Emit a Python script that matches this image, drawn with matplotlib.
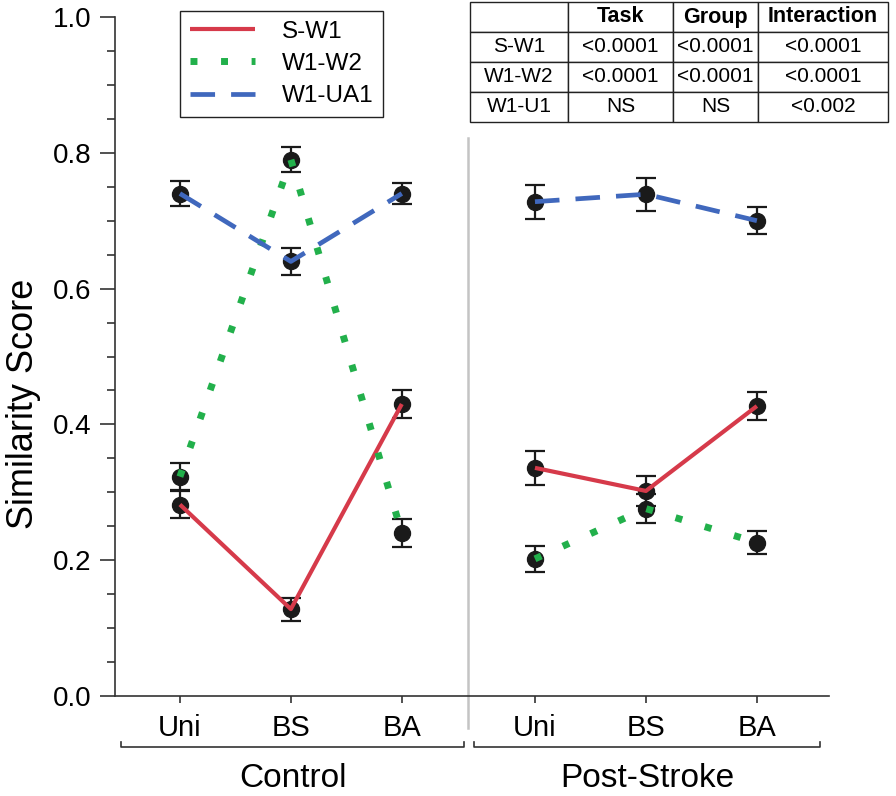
import numpy as np
import matplotlib
matplotlib.use('Agg')
import matplotlib.pyplot as plt
from matplotlib.lines import Line2D

plt.rcParams['font.family'] = ['Liberation Sans', 'DejaVu Sans']

# data
conditions = ['Uni', 'BS', 'BA']
groups = ['Control', 'Post-Stroke']
series = ['S-W1', 'W1-W2', 'W1-UA1']

sw1_ctrl = [0.282, 0.128, 0.430]
sw1_ctrl_err = [0.020, 0.017, 0.021]
w1w2_ctrl = [0.323, 0.790, 0.240]
w1w2_ctrl_err = [0.020, 0.019, 0.021]
w1ua1_ctrl = [0.740, 0.640, 0.740]
w1ua1_ctrl_err = [0.019, 0.020, 0.016]

sw1_post = [0.336, 0.302, 0.427]
sw1_post_err = [0.025, 0.022, 0.020]
w1w2_post = [0.202, 0.276, 0.226]
w1w2_post_err = [0.019, 0.021, 0.017]
w1ua1_post = [0.728, 0.739, 0.700]
w1ua1_post_err = [0.025, 0.024, 0.020]

table_cols = ['', 'Task', 'Group', 'Interaction']
table_rows = [['S-W1', '<0.0001', '<0.0001', '<0.0001'],
              ['W1-W2', '<0.0001', '<0.0001', '<0.0001'],
              ['W1-U1', 'NS', 'NS', '<0.002']]

# styles
colors = {'S-W1': '#d63a4a', 'W1-W2': '#22b04b', 'W1-UA1': '#4068bd'}
styles = {'S-W1': dict(ls='-', lw=3.0),
          'W1-W2': dict(ls=(0, (1, 3.4)), lw=5.0),
          'W1-UA1': dict(ls=(0, (5.2, 3.4)), lw=3.4)}
dark = '#333333'

group_off = [0.0, 3.2]
xpos = [np.arange(len(conditions)) + off for off in group_off]

data = {
    'S-W1': [(sw1_ctrl, sw1_ctrl_err), (sw1_post, sw1_post_err)],
    'W1-W2': [(w1w2_ctrl, w1w2_ctrl_err), (w1w2_post, w1w2_post_err)],
    'W1-UA1': [(w1ua1_ctrl, w1ua1_ctrl_err), (w1ua1_post, w1ua1_post_err)],
}

fig = plt.figure(figsize=(8.96, 7.96), dpi=100)
ax = fig.add_axes([115/896, 100/796, 714/896, 679/796])

for name in series:
    for g in range(2):
        vals, errs = data[name][g]
        ax.errorbar(xpos[g], vals, yerr=errs, fmt='o', color='#1a1a1a',
                    ms=11.5, capsize=7, elinewidth=1.6, capthick=1.6, zorder=2)
        ax.plot(xpos[g], vals, color=colors[name], zorder=3,
                solid_capstyle='butt', dash_capstyle='butt', **styles[name])

ax.set_xlim(-0.585, 5.85)
ax.set_ylim(0, 1.0)
ax.set_yticks(np.arange(0, 1.01, 0.2))
ax.set_yticklabels(['%.1f' % v for v in np.arange(0, 1.01, 0.2)])
ax.set_yticks(np.arange(0, 1.01, 0.05), minor=True)
ax.set_xticks(np.concatenate(xpos))
ax.set_xticklabels(conditions * 2)

for s in ['top', 'right']:
    ax.spines[s].set_visible(False)
for s in ['left', 'bottom']:
    ax.spines[s].set_color(dark)
    ax.spines[s].set_linewidth(1.2)
ax.tick_params(axis='y', which='major', length=11, width=1.2, color=dark,
               labelsize=20, pad=6, direction='out')
ax.tick_params(axis='y', which='minor', length=5.5, width=1.2, color=dark)
ax.tick_params(axis='x', length=5, width=1.2, color=dark, labelsize=21, pad=8)

ax.set_ylabel('Similarity Score', fontsize=26)
ax.yaxis.set_label_coords(-0.103, 0.43)

# divider between groups
ax.plot([2.6, 2.6], [-0.047, 0.822], color='#c4c4c4', lw=1.8,
        transform=ax.get_xaxis_transform(), clip_on=False, zorder=1)

# group brackets
brackets = [(-0.53, 2.56), (2.65, 5.77)]
for (x0, x1), gname in zip(brackets, groups):
    ax.plot([x0, x0, x1, x1], [-0.068, -0.075, -0.075, -0.068], color=dark,
            lw=1.2, transform=ax.get_xaxis_transform(), clip_on=False)
    ax.text((x0 + x1) / 2, -0.121, gname, fontsize=24, ha='center',
            va='center', transform=ax.get_xaxis_transform())

# legend
handles = [Line2D([], [], color=colors[n], solid_capstyle='butt',
                  dash_capstyle='butt', **styles[n]) for n in series]
leg = ax.legend(handles, series, loc='upper left',
                bbox_to_anchor=(0.091, 1.009), borderaxespad=0,
                fontsize=17.5, handlelength=2.7, fancybox=False,
                edgecolor='#222222', framealpha=1, borderpad=0.4,
                labelspacing=0.42, handletextpad=1.1)
leg.get_frame().set_linewidth(1.0)

# stats table
tax = fig.add_axes([470/896, (796-122)/796, 418/896, 120/796])
tax.axis('off')
tbl = tax.table(cellText=table_rows, colLabels=table_cols,
                colWidths=[98, 105, 85, 130], cellLoc='center',
                bbox=[0, 0, 1, 1])
tbl.auto_set_font_size(False)
for (r, c), cell in tbl.get_celld().items():
    cell.set_linewidth(1.0)
    cell.set_edgecolor('#222222')
    if r == 0:
        cell.get_text().set_fontsize(15.5)
        cell.get_text().set_fontweight('bold')
    else:
        cell.get_text().set_fontsize(15)

fig.savefig('out.png', dpi=100)
